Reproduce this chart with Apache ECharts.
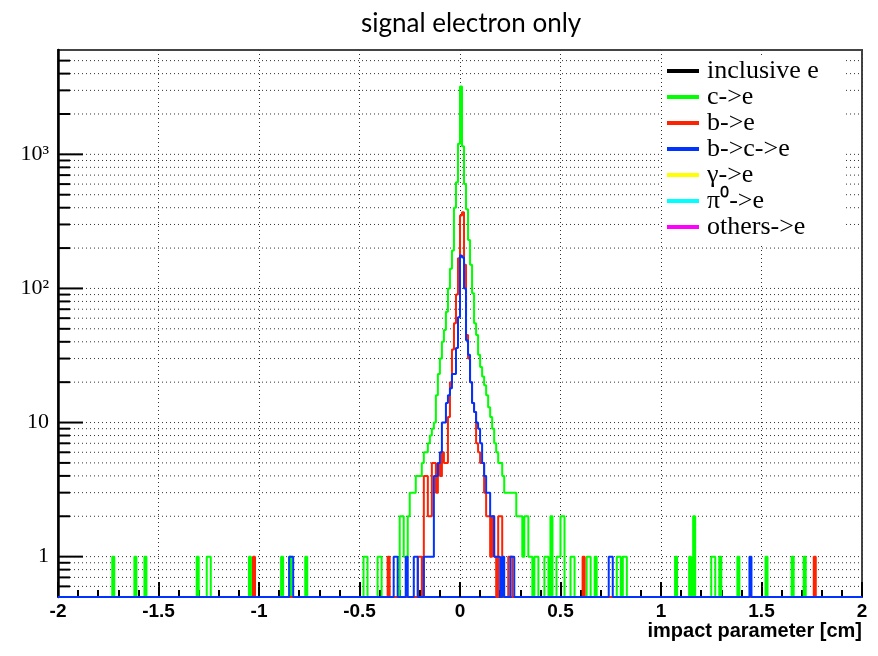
<!DOCTYPE html>
<html>
<head>
<meta charset="utf-8">
<script src="https://cdn.jsdelivr.net/npm/echarts@6/dist/echarts.min.js"></script>
<style>
  html, body { margin: 0; padding: 0; background: #fff; }
  #main { width: 878px; height: 656px; }
</style>
</head>
<body>
<div id="main"></div>
<script>
// histogram binning: 400 bins of 0.01 cm between -2 and 2
var xMin = -2, xMax = 2, binW = 0.01;
var yMin = 0.5, yMax = 6000;

// non-empty bins, [bin low edge (cm), entries]
const cToE = [
  [-1.73, 1], [-1.62, 1], [-1.57, 1], [-1.31, 1], [-1.26, 1], [-1.25, 1], [-1.05, 1],
  [-0.89, 1], [-0.85, 1], [-0.77, 1], [-0.48, 1], [-0.47, 1], [-0.41, 1], [-0.40, 1],
  [-0.30, 2], [-0.29, 2], [-0.28, 1], [-0.27, 1], [-0.26, 2], [-0.25, 3], [-0.24, 3],
  [-0.23, 3], [-0.22, 4], [-0.21, 4], [-0.20, 4], [-0.19, 5], [-0.18, 6], [-0.17, 6],
  [-0.16, 7], [-0.15, 8], [-0.14, 9], [-0.13, 10], [-0.12, 16], [-0.11, 23], [-0.10, 30],
  [-0.09, 40], [-0.08, 49], [-0.07, 67], [-0.06, 100], [-0.05, 140], [-0.04, 192],
  [-0.03, 400], [-0.02, 620], [-0.01, 1200], [0.00, 3200], [0.01, 1150], [0.02, 600],
  [0.03, 390], [0.04, 230], [0.05, 150], [0.06, 92], [0.07, 55], [0.08, 45], [0.09, 32],
  [0.10, 26], [0.11, 22], [0.12, 19], [0.13, 16], [0.14, 13], [0.15, 11], [0.16, 9],
  [0.17, 7], [0.18, 6], [0.19, 5], [0.20, 5], [0.21, 4], [0.22, 3], [0.23, 3], [0.24, 3],
  [0.25, 3], [0.26, 3], [0.27, 3], [0.28, 2], [0.29, 2], [0.30, 2], [0.31, 1], [0.32, 2],
  [0.33, 2], [0.34, 1], [0.35, 1], [0.37, 1], [0.38, 1], [0.42, 1], [0.43, 1], [0.45, 2],
  [0.48, 1], [0.49, 1], [0.50, 2], [0.51, 2], [0.55, 1], [0.56, 1], [0.63, 1], [0.64, 1],
  [0.67, 1], [0.78, 1], [0.79, 1], [0.81, 1], [0.82, 1], [1.07, 1], [1.14, 1], [1.16, 2],
  [1.25, 1], [1.26, 1], [1.29, 1], [1.38, 1], [1.52, 1], [1.65, 1], [1.71, 1]
];

const bToE = [
  [-1.03, 1], [-0.36, 1], [-0.21, 1], [-0.20, 1], [-0.18, 4], [-0.17, 4], [-0.16, 2],
  [-0.15, 2], [-0.14, 5], [-0.13, 5], [-0.12, 3], [-0.11, 5], [-0.10, 4], [-0.09, 6],
  [-0.08, 5], [-0.07, 5], [-0.06, 11], [-0.05, 20], [-0.04, 35], [-0.03, 55], [-0.02, 90],
  [-0.01, 168], [0.00, 350], [0.01, 370], [0.02, 150], [0.03, 45], [0.04, 30], [0.05, 20],
  [0.06, 14], [0.07, 12], [0.08, 7], [0.09, 6], [0.10, 5], [0.11, 5], [0.12, 3], [0.13, 2],
  [0.14, 2], [0.15, 1], [0.16, 2], [0.17, 1], [0.19, 2], [0.20, 2], [0.24, 1], [0.25, 1],
  [0.61, 1], [1.76, 1]
];

const bToCToE = [
  [-0.85, 1], [-0.84, 1], [-0.33, 1], [-0.32, 1], [-0.27, 1], [-0.23, 1], [-0.22, 1],
  [-0.18, 1], [-0.17, 1], [-0.16, 1], [-0.15, 1], [-0.14, 1], [-0.13, 4], [-0.12, 4],
  [-0.11, 5], [-0.10, 6], [-0.09, 10], [-0.08, 10], [-0.07, 14], [-0.06, 16], [-0.05, 18],
  [-0.04, 23], [-0.03, 23], [-0.02, 36], [-0.01, 61], [0.00, 176], [0.01, 170], [0.02, 100],
  [0.03, 41], [0.04, 32], [0.05, 20], [0.06, 14], [0.07, 12], [0.08, 10], [0.09, 9],
  [0.10, 7], [0.11, 5], [0.12, 4], [0.13, 3], [0.14, 3], [0.15, 2], [0.16, 2], [0.17, 1],
  [0.18, 1], [0.19, 1], [0.21, 1], [0.25, 1], [0.26, 1], [0.74, 1], [0.75, 1], [1.44, 1]
];

// nothing visible for these
const inclusiveE = [];
const gammaToE = [];
const pi0ToE = [];
const othersToE = [];

const legendNames = ['inclusive e', 'c->e', 'b->e', 'b->c->e', 'γ->e', 'π⁰->e', 'others->e'];
const legendColors = ['#000000', '#00ff00', '#ff2200', '#0033ff', '#ffff00', '#00ffff', '#ff00ff'];

// grid / tick values of the log axis (ROOT style: 2..9 of each decade)
const yGridVals = [0.6, 0.7, 0.8, 0.9, 1, 2, 3, 4, 5, 6, 7, 8, 9, 10, 20, 30, 40, 50, 60, 70, 80, 90,
  100, 200, 300, 400, 500, 600, 700, 800, 900, 1000, 2000, 3000, 4000, 5000];

function isDecade(v) {
  var l = Math.log10(v);
  return Math.abs(l - Math.round(l)) < 1e-6;
}

// turn sparse bins into step points, empty bins sit on the bottom of the frame
function buildSteps(pairs) {
  if (!pairs.length) return [];
  var nBins = Math.round((xMax - xMin) / binW);
  var counts = new Array(nBins).fill(0);
  pairs.forEach(function (p) {
    counts[Math.round((p[0] - xMin) / binW)] = p[1];
  });
  var pts = counts.map(function (n, i) {
    return [xMin + i * binW, n > 0 ? n : yMin];
  });
  pts.push([xMax, yMin]);
  return pts;
}

var histData = [inclusiveE, cToE, bToE, bToCToE, gammaToE, pi0ToE, othersToE];

var chartDom = document.getElementById('main');
var myChart = echarts.init(chartDom);

var series = [{
  name: 'ygrid',
  type: 'custom',
  silent: true,
  z: 1,
  data: yGridVals.map(function (v) { return [xMin, v]; }),
  renderItem: function (params, api) {
    var v = api.value(1);
    var a = api.coord([xMin, v]);
    var b = api.coord([xMax, v]);
    var len = isDecade(v) ? 25 : 12;
    return {
      type: 'group',
      children: [
        { type: 'line', shape: { x1: a[0], y1: a[1], x2: b[0], y2: b[1] },
          style: { stroke: '#333', lineWidth: 1, lineDash: [1, 3] } },
        { type: 'line', shape: { x1: a[0], y1: a[1], x2: a[0] + len, y2: a[1] },
          style: { stroke: '#000', lineWidth: 2 } }
      ]
    };
  }
}];

legendNames.forEach(function (name, i) {
  series.push({
    name: name,
    type: 'line',
    step: 'end',
    symbol: 'none',
    z: 2,
    color: legendColors[i],
    lineStyle: { color: legendColors[i], width: 2 },
    data: buildSteps(histData[i])
  });
});

var option = {
  animation: false,
  backgroundColor: '#fff',
  title: [{
    text: 'signal electron only',
    left: 356,
    top: 6,
    textStyle: { fontFamily: 'Lato', fontSize: 26, fontWeight: 'normal', color: '#000' }
  }, {
    text: 'impact parameter [cm]',
    right: 16,
    top: 621,
    padding: 0,
    textStyle: { fontFamily: 'Liberation Sans', fontSize: 20, fontWeight: 'bold', color: '#000' }
  }],
  grid: {
    left: 58, right: 16, top: 50, bottom: 59,
    show: true, borderColor: '#444', borderWidth: 2, backgroundColor: 'transparent'
  },
  legend: {
    data: legendNames,
    orient: 'vertical',
    left: 662,
    top: 55,
    icon: 'rect',
    itemWidth: 32,
    itemHeight: 4,
    itemGap: 0,
    padding: [3, 26, 4, 5],
    backgroundColor: '#fff',
    selectedMode: false,
    textStyle: { fontFamily: 'Liberation Serif', fontSize: 26, lineHeight: 21.3, color: '#000', padding: [0, 0, 0, 3] }
  },
  xAxis: {
    type: 'value',
    min: xMin,
    max: xMax,
    interval: 0.5,
    axisLine: { show: true, onZero: false, lineStyle: { color: '#0033ff', width: 2 } },
    axisTick: { show: true, inside: true, length: 15, lineStyle: { color: '#000', width: 2 } },
    minorTick: { show: true, splitNumber: 5, length: 7, lineStyle: { color: '#000', width: 2 } },
    splitLine: { show: true, lineStyle: { color: '#333', width: 1, type: [1, 3] } },
    axisLabel: { fontFamily: 'Liberation Sans', fontWeight: 'bold', fontSize: 19, color: '#000', margin: 5 }
  },
  yAxis: {
    type: 'log',
    logBase: 10,
    min: yMin,
    max: yMax,
    axisLine: { show: true, onZero: false, lineStyle: { color: '#000', width: 2.5 } },
    axisTick: { show: false },
    splitLine: { show: false },
    axisLabel: {
      fontFamily: 'Liberation Serif',
      fontSize: 22,
      color: '#000',
      margin: 9,
      formatter: function (v) {
        if (!isDecade(v)) return '';
        var n = Math.round(Math.log10(v));
        if (n === 0) return '1';
        if (n === 1) return '10';
        if (n === 2) return '10²';
        if (n === 3) return '10³';
        return '';
      }
    }
  },
  series: series
};

option && myChart.setOption(option);
</script>
</body>
</html>
